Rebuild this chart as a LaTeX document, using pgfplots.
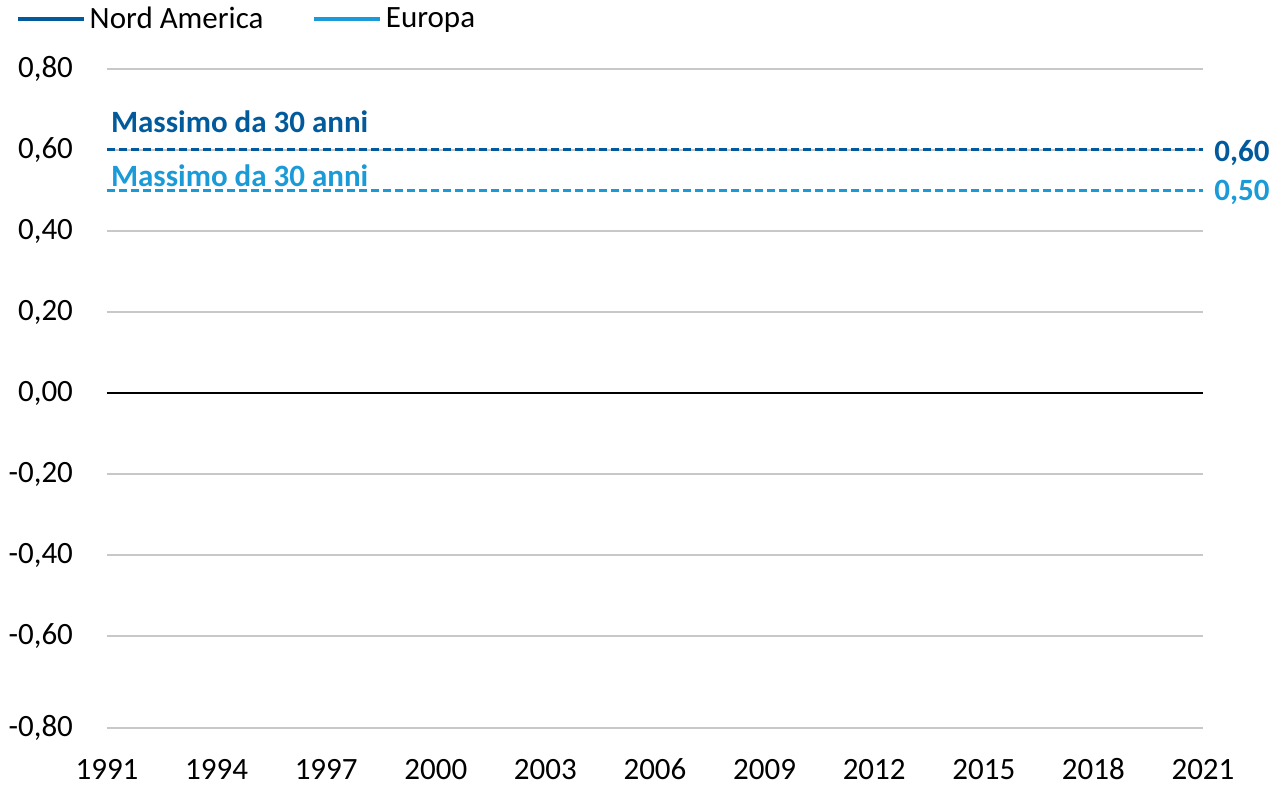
\documentclass[border=0pt]{standalone}
\usepackage{fontspec}
\setmainfont{Carlito}
\usepackage{pgfplots}
\pgfplotsset{compat=1.18}
\definecolor{nordam}{HTML}{005A9C}
\definecolor{europa}{HTML}{1A9BD7}
\definecolor{gridgray}{HTML}{C8C8C8}
\begin{document}
\begin{tikzpicture}[font=\fontsize{15.5}{18.6}\selectfont]
\begin{axis}[
    name=main,
    scale only axis,
    width=548pt, height=329.5pt,
    xmin=1991, xmax=2021,
    ymin=-0.827, ymax=0.8,
    xtick={1991,1994,...,2021},
    ytick={-0.827,-0.6,-0.4,-0.2,0,0.2,0.4,0.6,0.8},
    yticklabels={{-0,80},{-0,60},{-0,40},{-0,20},{0,00},{0,20},{0,40},{0,60},{0,80}},
    axis line style={draw=none},
    major tick length=0pt,
    ymajorgrids,
    grid style={gridgray, line width=0.9pt},
    xticklabel style={/pgf/number format/1000 sep={}, /pgf/number format/assume math mode=true,
        text height=10pt, text depth=0pt, yshift=-12pt},
    yticklabel style={xshift=-13.5pt},
    clip=false,
    legend columns=2,
    legend style={at={(rel axis cs:-0.084,1.076)}, anchor=west, draw=none, fill=none,
        inner sep=0pt, column sep=0pt,
        /tikz/every even column/.append style={column sep=22pt}},
    legend image code/.code={\draw[#1, line width=2.2pt] (0pt,0pt) -- (33pt,0pt);},
]
\addlegendimage{nordam}
\addlegendentry{Nord America}
\addlegendimage{europa}
\addlegendentry{Europa}
\addplot[black, line width=1pt, forget plot] coordinates {(1991,0) (2021,0)};
\addplot[nordam, line width=1.5pt, dash pattern=on 4pt off 2pt, forget plot] coordinates {(1991,0.60) (2021,0.60)};
\addplot[europa, line width=1.5pt, dash pattern=on 4pt off 2pt, forget plot] coordinates {(1991,0.50) (2021,0.50)};
\node[anchor=base west, inner sep=0pt, text=nordam, font=\fontsize{15.5}{18.6}\selectfont\bfseries] at (axis cs:1991.1,0.642) {Massimo da 30 anni};
\node[anchor=base west, inner sep=0pt, text=europa, font=\fontsize{15.5}{18.6}\selectfont\bfseries] at (axis cs:1991.1,0.511) {Massimo da 30 anni};
\node[anchor=west, inner sep=0pt, text=nordam, font=\fontsize{15.5}{18.6}\selectfont\bfseries] at (axis cs:2021.3,0.593) {0,60};
\node[anchor=west, inner sep=0pt, text=europa, font=\fontsize{15.5}{18.6}\selectfont\bfseries] at (axis cs:2021.3,0.495) {0,50};
\end{axis}
\pgfresetboundingbox
\useasboundingbox ([shift={(-53.5pt,-32pt)}]main.south west) rectangle ([shift={(38.5pt,34.5pt)}]main.north east);
\end{tikzpicture}
\end{document}
